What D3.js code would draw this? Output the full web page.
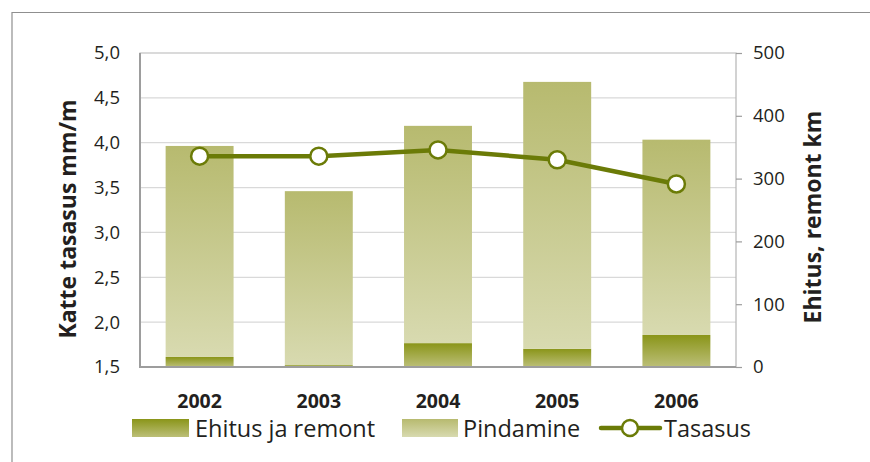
<!DOCTYPE html>
<html>
<head>
<meta charset="utf-8">
<script src="https://cdn.jsdelivr.net/npm/d3@7"></script>
<style>
  html, body { margin: 0; padding: 0; background: #fff; }
  svg { display: block; font-family: "Open Sans", "Noto Sans", sans-serif; }
</style>
</head>
<body>
<svg width="870" height="462"></svg>
<script>
// Data.
var years = ["2002", "2003", "2004", "2005", "2006"];
var ehitus = [16, 3, 38, 29, 51];          // Ehitus ja remont, km
var pindamine = [336, 277, 346, 425, 311]; // Pindamine, km
var tasasus = [3.85, 3.85, 3.92, 3.81, 3.54]; // Katte tasasus mm/m
var leftTicks = [1.5, 2.0, 2.5, 3.0, 3.5, 4.0, 4.5, 5.0];
var rightTicks = [0, 100, 200, 300, 400, 500];

var svg = d3.select("svg");

// Plot area.
var plotL = 140, plotR = 736, plotT = 53, plotB = 367;

var x = d3.scaleBand().domain(years).range([plotL, plotR])
    .paddingInner(0.43).paddingOuter(0.215);
var yL = d3.scaleLinear().domain([1.5, 5.0]).range([plotB, plotT]);
var yR = d3.scaleLinear().domain([0, 500]).range([plotB, plotT]);

var comma = d3.formatLocale({ decimal: ",", thousands: " ", grouping: [3], currency: ["", ""] });

// Gradients.
var defs = svg.append("defs");
function gradient(id, c1, c2) {
    var g = defs.append("linearGradient").attr("id", id)
        .attr("x1", 0).attr("y1", 0).attr("x2", 0).attr("y2", 1);
    g.append("stop").attr("offset", "0%").attr("stop-color", c1);
    g.append("stop").attr("offset", "100%").attr("stop-color", c2);
}
gradient("gEhitus", "#8a9519", "#bcbf78");
gradient("gPind", "#b7ba6f", "#d8dab0");

// Outer frame.
svg.append("path")
    .attr("d", "M12,462V12.5H870")
    .attr("fill", "none").attr("stroke", "#8f8f8f").attr("stroke-width", 1.2);

// Gridlines.
svg.append("g").selectAll("line").data(leftTicks.slice(1, -1)).join("line")
    .attr("x1", plotL).attr("x2", plotR)
    .attr("y1", d => yL(d)).attr("y2", d => yL(d))
    .attr("stroke", "#d9d9d9").attr("stroke-width", 1.3);

// Stacked bars.
var rows = years.map((y, i) => ({ year: y, ehitus: ehitus[i], pindamine: pindamine[i] }));
var stack = d3.stack().keys(["ehitus", "pindamine"])(rows);
var fills = { ehitus: "url(#gEhitus)", pindamine: "url(#gPind)" };

svg.append("g").selectAll("g").data(stack).join("g")
    .attr("fill", d => fills[d.key])
    .selectAll("rect").data(d => d).join("rect")
    .attr("x", d => x(d.data.year))
    .attr("width", x.bandwidth())
    .attr("y", d => yR(d[1]))
    .attr("height", d => yR(d[0]) - yR(d[1]));

// Plot border.
svg.append("path")
    .attr("d", "M" + plotL + "," + plotB + "V" + plotT + "H" + plotR + "V" + plotB + "Z")
    .attr("fill", "none").attr("stroke", "#b5b5b5").attr("stroke-width", 1.2);
svg.append("path")
    .attr("d", "M" + plotL + "," + plotT + "V" + plotB + "H" + plotR)
    .attr("fill", "none").attr("stroke", "#9d9d9d").attr("stroke-width", 2);

// Left axis.
var axL = svg.append("g").attr("transform", "translate(" + plotL + ",0)")
    .call(d3.axisLeft(yL).tickValues(leftTicks).tickSize(0).tickPadding(20)
        .tickFormat(comma.format(".1f")));
axL.select(".domain").remove();
axL.selectAll("text").attr("font-size", 18.5).attr("fill", "#231f20")
    .attr("font-family", "'Open Sans', sans-serif");

// Right axis.
var axR = svg.append("g").attr("transform", "translate(" + plotR + ",0)")
    .call(d3.axisRight(yR).tickValues(rightTicks).tickSize(6).tickPadding(11));
axR.select(".domain").remove();
axR.selectAll("line").attr("stroke", "#9d9d9d").attr("stroke-width", 1.2);
axR.selectAll("text").attr("font-size", 18.5).attr("fill", "#231f20")
    .attr("font-family", "'Open Sans', sans-serif");

// Category labels.
svg.append("g").selectAll("text").data(years).join("text")
    .attr("x", d => x(d) + x.bandwidth() / 2)
    .attr("y", 408)
    .attr("text-anchor", "middle")
    .attr("font-size", 19.5).attr("font-weight", "bold").attr("fill", "#231f20")
    .text(d => d);

// Axis titles.
svg.append("text")
    .attr("transform", "translate(76,219) rotate(-90)")
    .attr("text-anchor", "middle")
    .attr("font-size", 23).attr("font-weight", "bold").attr("fill", "#231f20")
    .text("Katte tasasus mm/m");
svg.append("text")
    .attr("transform", "translate(821,217) rotate(-90)")
    .attr("text-anchor", "middle")
    .attr("font-size", 23).attr("font-weight", "bold").attr("fill", "#231f20")
    .text("Ehitus, remont km");

// Tasasus line.
var lineColor = "#6b7b07";
var pts = years.map((y, i) => [x(y) + x.bandwidth() / 2, yL(tasasus[i])]);
svg.append("path")
    .attr("d", d3.line()(pts))
    .attr("fill", "none").attr("stroke", lineColor).attr("stroke-width", 4.5);
svg.append("g").selectAll("circle").data(pts).join("circle")
    .attr("cx", d => d[0]).attr("cy", d => d[1]).attr("r", 8.5)
    .attr("fill", "#fff").attr("stroke", lineColor).attr("stroke-width", 2.5);

// Legend.
var lg = svg.append("g").attr("font-size", 23.5).attr("fill", "#231f20");
lg.append("rect").attr("x", 132).attr("y", 419).attr("width", 57).attr("height", 18).attr("fill", "url(#gEhitus)");
lg.append("text").attr("x", 195).attr("y", 437).text("Ehitus ja remont");
lg.append("rect").attr("x", 402).attr("y", 419).attr("width", 56).attr("height", 18).attr("fill", "url(#gPind)");
lg.append("text").attr("x", 463).attr("y", 437).text("Pindamine");
lg.append("line").attr("x1", 601).attr("x2", 660).attr("y1", 428).attr("y2", 428)
    .attr("stroke", lineColor).attr("stroke-width", 4.5).attr("stroke-linecap", "round");
lg.append("circle").attr("cx", 630).attr("cy", 428).attr("r", 8)
    .attr("fill", "#fff").attr("stroke", lineColor).attr("stroke-width", 2.5);
lg.append("text").attr("x", 664).attr("y", 437).text("Tasasus");
</script>
</body>
</html>
